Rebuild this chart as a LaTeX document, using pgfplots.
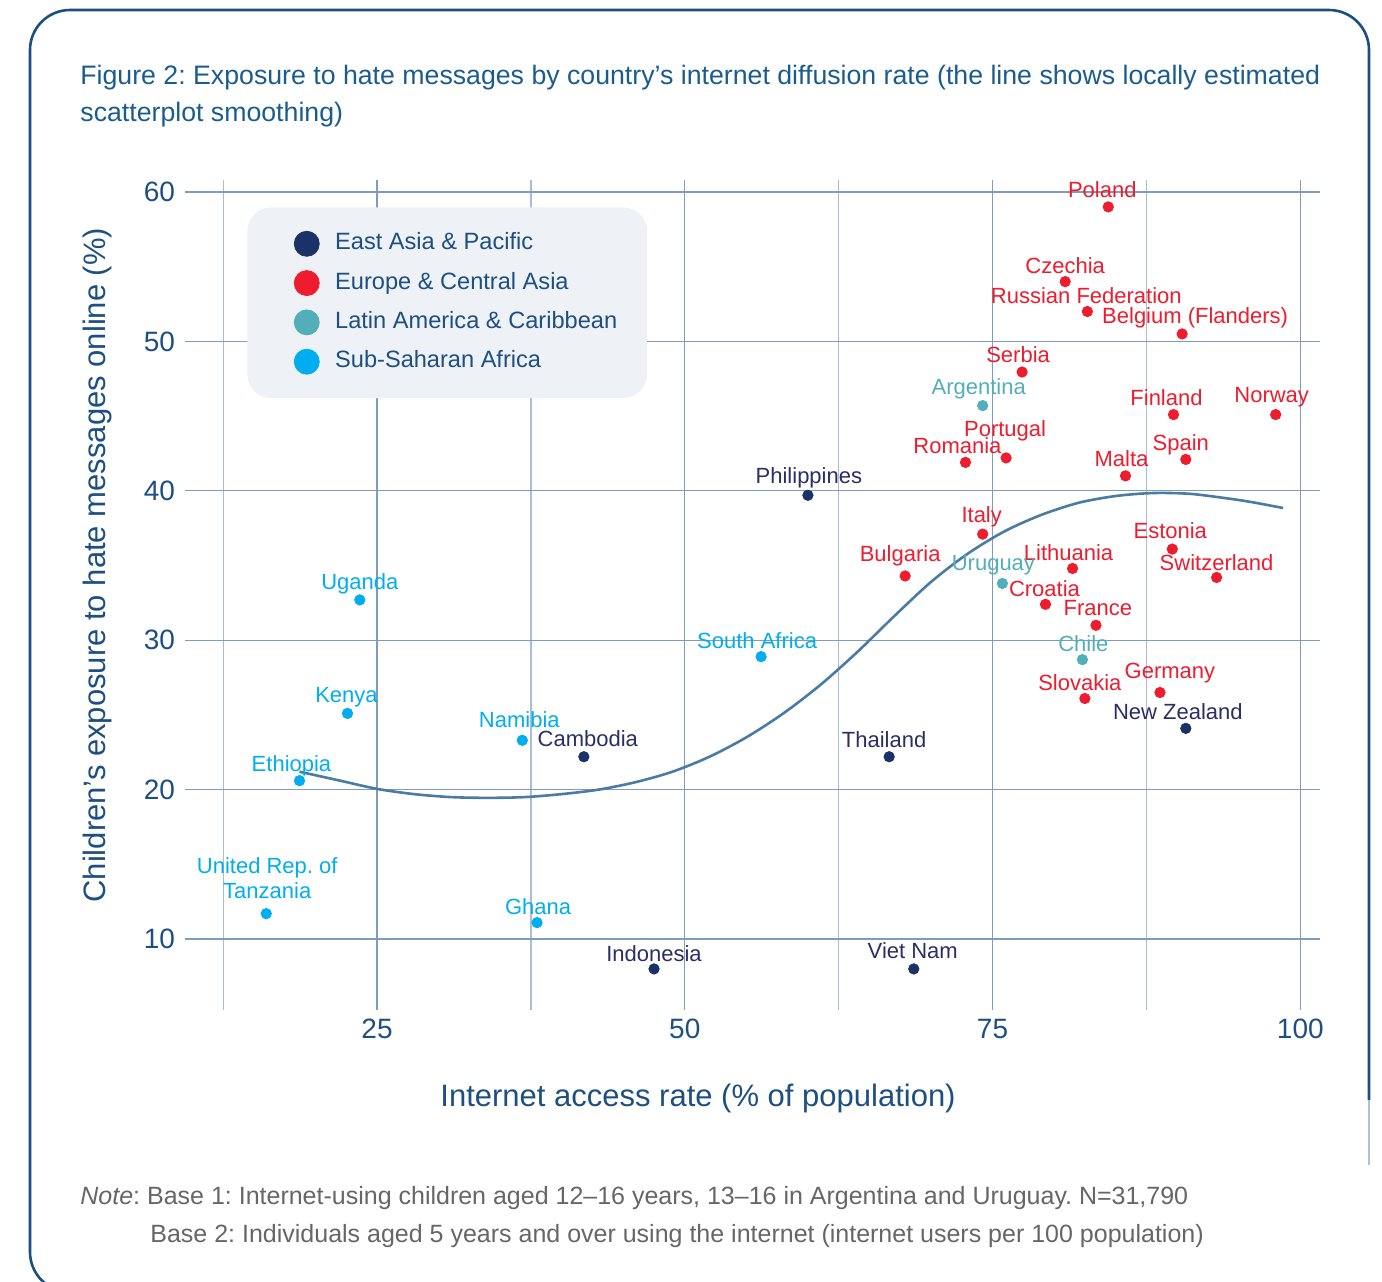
\documentclass[border=0pt]{standalone}
\usepackage{fontspec}
\setmainfont{Liberation Sans}
\usepackage{pgfplots}
\usepackage{pgfplotstable}
\pgfplotsset{compat=1.18}
\definecolor{eap}{HTML}{1A3266}
\definecolor{eaplab}{HTML}{2B2D64}
\definecolor{eca}{HTML}{ED1C2E}
\definecolor{lac}{HTML}{52AFBA}
\definecolor{ssa}{HTML}{00AEEF}
\definecolor{axb}{HTML}{1D4F80}
\definecolor{titb}{HTML}{1B5C8F}
\definecolor{gridc}{HTML}{7F9DBB}
\definecolor{gridm}{HTML}{A9BED3}
\definecolor{curvec}{HTML}{4A7BA3}
\definecolor{legbg}{HTML}{EEF1F5}
\definecolor{notec}{HTML}{666666}
\definecolor{framec}{HTML}{1A4F80}

\newcommand{\lab}[6]{\node[text=#6,font=\fontsize{11}{12}\selectfont,inner sep=0pt,xshift=#3*0.5pt,yshift=#4*0.5pt] at (axis cs:#1,#2) {#5};}

\pgfplotstableread{
x y
60.0 39.7
41.8 22.2
66.6 22.2
47.5 8.0
68.6 8.0
90.7 24.1
}\eaptab
\pgfplotstableread{
x y
84.4 59.0
80.9 54.0
82.7 52.0
90.4 50.5
77.4 47.95
89.7 45.1
98.0 45.1
76.1 42.2
72.8 41.9
85.8 41.0
90.7 42.1
74.2 37.1
89.6 36.1
67.9 34.3
81.5 34.8
93.2 34.2
79.3 32.4
83.4 31.0
88.6 26.5
82.5 26.1
}\ecatab
\pgfplotstableread{
x y
74.2 45.7
75.8 33.8
82.3 28.7
}\lactab
\pgfplotstableread{
x y
23.6 32.7
56.2 28.9
22.6 25.1
36.8 23.3
18.7 20.6
16.0 11.7
38.0 11.1
}\ssatab
\pgfplotstableread{
x y
18.7 21.2
22 20.6
25 20.05
28 19.7
31 19.5
34 19.45
37 19.5
40 19.7
43 20.0
46 20.5
49 21.2
52 22.2
55 23.5
58 25.1
61 27.0
64 29.2
67 31.6
70 33.9
73 35.8
76 37.3
79 38.4
82 39.2
85 39.65
88 39.85
91 39.8
94 39.5
96 39.25
98.6 38.85
}\loesstab

\begin{document}
\frenchspacing
\begin{tikzpicture}
\begin{scope}[x=0.5pt,y=-0.5pt]
\useasboundingbox (0,0) rectangle (1382,1281);
\begin{scope}
\clip (0,0) rectangle (1382,1281);
\draw[framec, line width=1.3pt, rounded corners=20pt] (300,1292) -- (30,1292) -- (30,10) -- (1369,10) -- (1369,1100);
\draw[framec!35, line width=1pt] (1369,1100) -- (1369,1165);
\end{scope}
\node[anchor=west, text=titb, font=\fontsize{13.35}{16}\selectfont, inner sep=0pt] at (80,78) {Figure 2: Exposure to hate messages by country’s internet diffusion rate (the line shows locally estimated};
\node[anchor=west, text=titb, font=\fontsize{13.35}{16}\selectfont, inner sep=0pt] at (80,115) {scatterplot smoothing)};
\node[anchor=west, text=notec, font=\fontsize{12.5}{14}\selectfont, inner sep=0pt] at (80,1198) {\textit{Note}: Base 1: Internet-using children aged 12--16 years, 13--16 in Argentina and Uruguay. N=31,790};
\node[anchor=west, text=notec, font=\fontsize{12.5}{14}\selectfont, inner sep=0pt] at (150,1236) {Base 2: Individuals aged 5 years and over using the internet (internet users per 100 population)};
\end{scope}

\begin{axis}[
  at={(92.5pt,-505pt)}, anchor=south west,
  scale only axis, width=567.5pt, height=415pt,
  xmin=9.4, xmax=101.6, ymin=5.25, ymax=60.8,
  clip=false,
  axis line style={draw=none},
  major tick length=0pt, minor tick length=0pt,
  xtick={25,50,75,100}, ytick={10,20,30,40,50,60},
  minor xtick={12.5,37.5,62.5,87.5},
  grid=both,
  major grid style={color=gridc, line width=0.7pt},
  minor grid style={color=gridm, line width=0.6pt},
  /pgf/number format/assume math mode=true,
  ticklabel style={font=\fontsize{14}{16}\selectfont, text=axb},
  yticklabel style={xshift=-1.5pt},
  xticklabel style={yshift=-1pt},
  xlabel={Internet access rate (\% of population)},
  ylabel={Children’s exposure to hate messages online (\%)},
  label style={font=\fontsize{15.5}{18}\selectfont, text=axb},
  xlabel style={at={(axis description cs:0.452,-0.106)}, anchor=center},
  ylabel style={at={(axis description cs:-0.0775,0.536)}, anchor=center},
  legend style={at={(axis description cs:0.0546,0.9675)}, anchor=north west,
    fill=legbg, draw=none, rounded corners=12pt,
    font=\fontsize{11.8}{14}\selectfont, text=axb,
    inner xsep=15pt, inner ysep=11.75pt, row sep=6.75pt,
    column sep=7.75pt,
    nodes={inner sep=0pt, text height=8.5pt, text depth=2.5pt}},
  legend cell align=left,
  legend image code/.code={\path (-14.5pt,0pt); \fill (0pt,0pt) circle (6.25pt);},
]
\addplot[smooth, tension=0.5, color=curvec, line width=1.3pt, forget plot] table[x=x,y=y] {\loesstab};
\addplot[only marks, mark=*, mark size=2.6pt, color=eap] table[x=x,y=y] {\eaptab};
\addlegendentry{East Asia \& Pacific}
\addplot[only marks, mark=*, mark size=2.6pt, color=eca] table[x=x,y=y] {\ecatab};
\addlegendentry{Europe \& Central Asia}
\addplot[only marks, mark=*, mark size=2.6pt, color=lac] table[x=x,y=y] {\lactab};
\addlegendentry{Latin America \& Caribbean}
\addplot[only marks, mark=*, mark size=2.6pt, color=ssa] table[x=x,y=y] {\ssatab};
\addlegendentry{Sub-Saharan Africa}

\lab{60.0}{39.7}{1}{17}{Philippines}{eaplab}
\lab{41.8}{22.2}{4}{18}{Cambodia}{eaplab}
\lab{66.6}{22.2}{-5}{17}{Thailand}{eaplab}
\lab{47.5}{8.0}{0}{15}{Indonesia}{eaplab}
\lab{68.6}{8.0}{-1}{18}{Viet Nam}{eaplab}
\lab{90.7}{24.1}{-8}{17}{New Zealand}{eaplab}

\lab{84.4}{59.0}{-6}{17}{Poland}{eca}
\lab{80.9}{54.0}{0}{16}{Czechia}{eca}
\lab{82.7}{52.0}{-1}{16}{Russian Federation}{eca}
\lab{90.4}{50.5}{13}{16}{Belgium (Flanders)}{eca}
\lab{77.4}{47.95}{-4}{17}{Serbia}{eca}
\lab{89.7}{45.1}{-7}{17}{Finland}{eca}
\lab{98.0}{45.1}{-4}{17}{Norway}{eca}
\lab{76.1}{42.2}{-1}{27}{Portugal}{eca}
\lab{72.8}{41.9}{-8}{17}{Romania}{eca}
\lab{85.8}{41.0}{-4}{17}{Malta}{eca}
\lab{90.7}{42.1}{-5}{15}{Spain}{eca}
\lab{74.2}{37.1}{-1}{17}{Italy}{eca}
\lab{89.6}{36.1}{-2}{18}{Estonia}{eca}
\lab{67.9}{34.3}{-5}{20}{Bulgaria}{eca}
\lab{81.5}{34.8}{-4}{16}{Lithuania}{eca}
\lab{93.2}{34.2}{0}{15}{Switzerland}{eca}
\lab{79.3}{32.4}{-1}{16}{Croatia}{eca}
\lab{83.4}{31.0}{2}{17}{France}{eca}
\lab{88.6}{26.5}{10}{19}{Germany}{eca}
\lab{82.5}{26.1}{-5}{16}{Slovakia}{eca}

\lab{74.2}{45.7}{-4}{17}{Argentina}{lac}
\lab{75.8}{33.8}{-9}{18}{Uruguay}{lac}
\lab{82.3}{28.7}{1}{16}{Chile}{lac}

\lab{23.6}{32.7}{0}{16}{Uganda}{ssa}
\lab{56.2}{28.9}{-4}{16}{South Africa}{ssa}
\lab{22.6}{25.1}{-1}{16}{Kenya}{ssa}
\lab{36.8}{23.3}{-3}{21}{Namibia}{ssa}
\lab{18.7}{20.6}{-8}{15}{Ethiopia}{ssa}
\node[text=ssa,font=\fontsize{11}{12.5}\selectfont,inner sep=0pt,align=center,xshift=1*0.5pt,yshift=36*0.5pt] at (axis cs:16.0,11.7) {United Rep. of\\Tanzania};
\lab{38.0}{11.1}{1}{16}{Ghana}{ssa}
\end{axis}
\end{tikzpicture}
\end{document}
